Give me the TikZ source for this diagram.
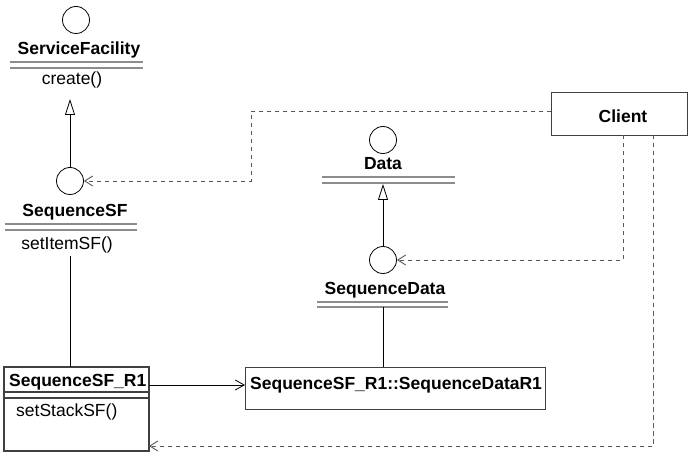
\documentclass[tikz,border=0pt]{standalone}
\usepackage{fontspec}
\setmainfont{Liberation Sans}
\usetikzlibrary{arrows.meta}
\begin{document}
\begin{tikzpicture}[x=1pt,y=-1pt,
  lbl/.style={inner sep=0pt, font=\fontsize{17.5}{19}\selectfont\bfseries},
  txt/.style={inner sep=0pt, font=\fontsize{17.5}{19}\selectfont},
  iface/.style={circle, draw=black, line width=0.8pt, minimum size=27pt, inner sep=0pt},
  dbl/.style={draw=gray!90, line width=1.6pt},
  boxln/.style={draw=black!75, line width=1.1pt},
  solid line/.style={draw=black, line width=0.8pt},
  dep/.style={draw=black!65, line width=0.9pt, dash pattern=on 4.5pt off 3.5pt, -{Straight Barb[length=8pt,width=10pt]}},
  gen/.style={draw=black, line width=0.8pt, -{Triangle[open,length=16pt,width=10pt]}},
  assoc/.style={draw=black, line width=0.8pt, -{Straight Barb[length=9pt,width=10pt]}}
]
\useasboundingbox (0,0) rectangle (688,454);

% ServiceFacility
\node[iface] (sfc) at (76,20) {};
\node[lbl] (sfl) at (79,50) {ServiceFacility};
\draw[dbl] (10,62) -- (143,62);
\draw[dbl] (10,68) -- (143,68);
\node[txt] (sfop) at (72,80) {create()};
\coordinate (sftip) at (70,99);

% SequenceSF
\node[iface] (ssc) at (70,181) {};
\node[lbl] (ssl) at (75,212) {SequenceSF};
\draw[dbl] (5,224) -- (137,224);
\draw[dbl] (5,230) -- (137,230);
\node[txt] (ssop) at (67,245) {setItemSF()};
\coordinate (ssbot) at (70,256);

% Data
\node[iface] (dc) at (383,140) {};
\node[lbl] (dl) at (383,164) {Data};
\draw[dbl] (322,177) -- (455,177);
\draw[dbl] (322,183) -- (455,183);
\coordinate (dtip) at (383,184);

% SequenceData
\node[iface] (sdc) at (383,260) {};
\node[lbl] (sdl) at (385,290) {SequenceData};
\draw[dbl] (317,302) -- (448,302);
\draw[dbl] (317,307) -- (448,307);
\coordinate (sdbot) at (383,307);

% SequenceSF_R1 box
\draw[boxln] (4,367) rectangle (149,451);
\node[lbl, anchor=west] (r1l) at (9,382) {SequenceSF\_R1};
\draw[boxln] (4,392) -- (149,392);
\draw[boxln] (4,398) -- (149,398);
\node[txt, anchor=west] (r1op) at (16,412) {setStackSF()};
\coordinate (r1top) at (70,367);
\coordinate (r1a) at (149,385);
\coordinate (r1b) at (149,446);

% SequenceDataR1 box
\node[boxln, rectangle, anchor=north west, minimum width=300pt, minimum height=42pt, inner sep=0pt] (dr1) at (245,367) {};
\node[lbl, anchor=west] (dr1l) at (250,385) {SequenceSF\_R1::SequenceDataR1};
\coordinate (dr1a) at (245,385);
\coordinate (dr1top) at (383,367);

% Client
\node[boxln, rectangle, anchor=north west, minimum width=136pt, minimum height=43pt, inner sep=0pt] (cl) at (551,92) {};
\node[lbl] (cll) at (623,116) {Client};

% connectors
\draw[gen] (ssc.north) -- (sftip);
\draw[gen] (sdc.north) -- (dtip);
\draw[solid line] (ssbot) -- (r1top);
\draw[solid line] (sdbot) -- (dr1top);
\draw[assoc] (r1a) -- (dr1a);
\draw[dep] (cl.west |- 0,111) -- (251,111) -- (251,181) -- (ssc.east);
\draw[dep] (623,135) -- (623,260) -- (sdc.east);
\draw[dep] (653,135) -- (653,446) -- (r1b);
\end{tikzpicture}
\end{document}
